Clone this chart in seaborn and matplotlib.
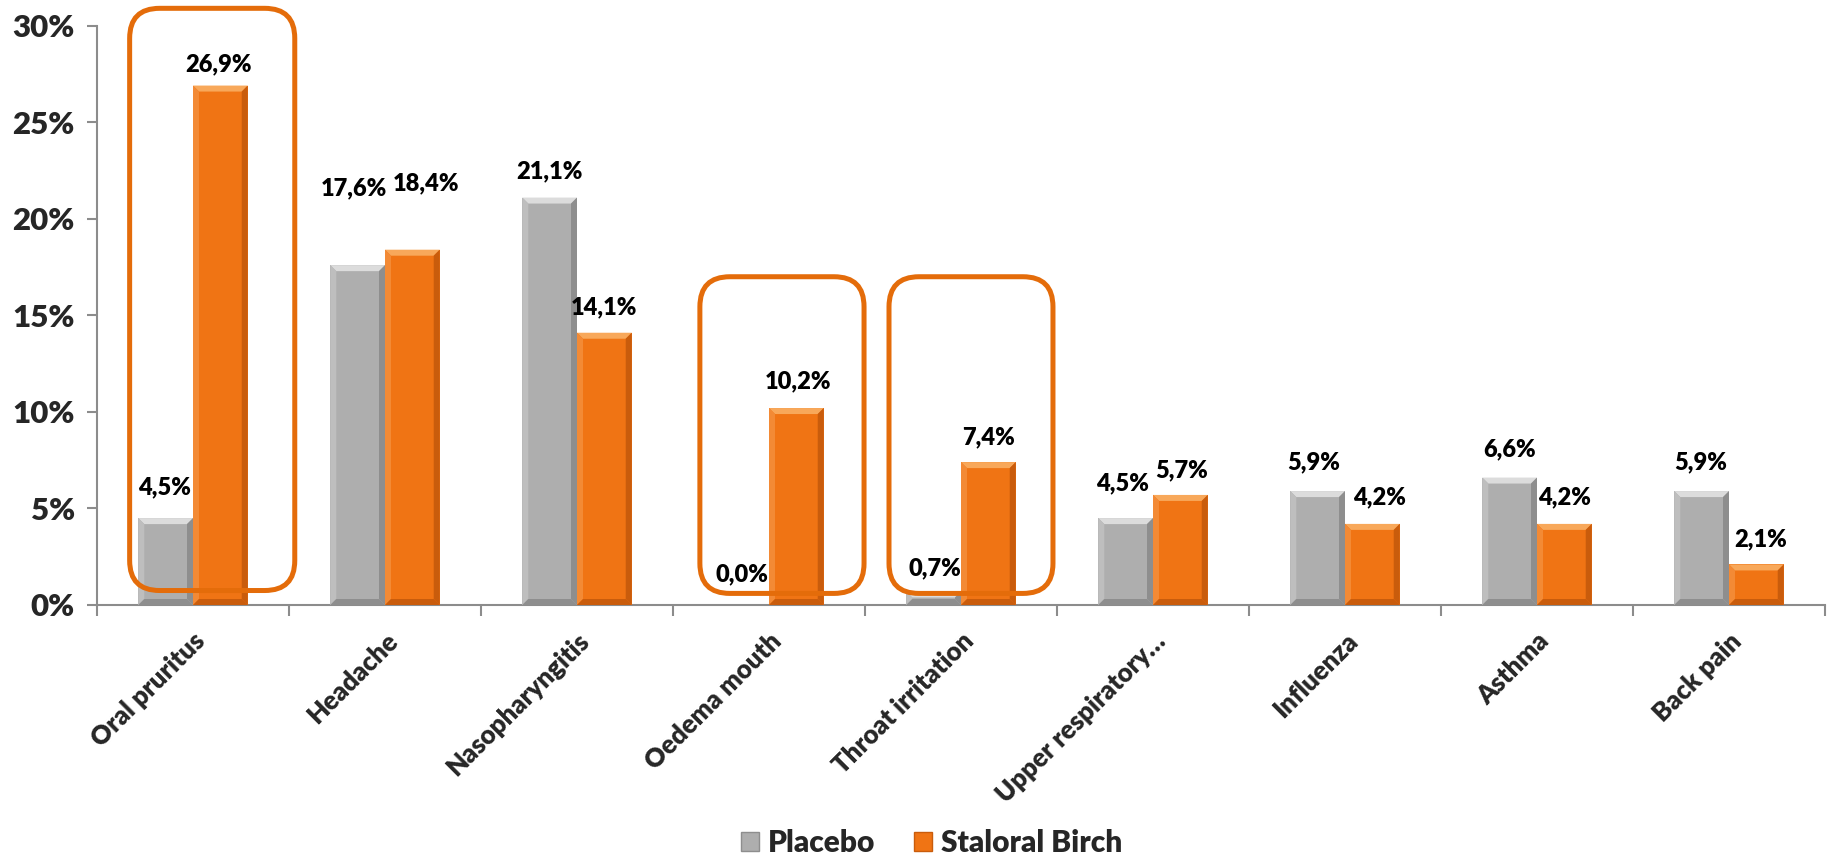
import numpy as np
import pandas as pd
import matplotlib
matplotlib.use("Agg")
import matplotlib.pyplot as plt
from matplotlib.patches import Polygon, FancyBboxPatch, Patch
from matplotlib.ticker import FuncFormatter, FixedLocator
import seaborn as sns

# ---- data -----------------------------------------------------------------
categories = ["Oral pruritus", "Headache", "Nasopharyngitis", "Oedema mouth",
              "Throat irritation", "Upper respiratory…", "Influenza", "Asthma",
              "Back pain"]
placebo = [4.5, 17.6, 21.1, 0.0, 0.7, 4.5, 5.9, 6.6, 5.9]
staloral = [26.9, 18.4, 14.1, 10.2, 7.4, 5.7, 4.2, 4.2, 2.1]
series_names = ["Placebo", "Staloral Birch"]
y_ticks = [0, 5, 10, 15, 20, 25, 30]

# ---- styling / layout -------------------------------------------------------
colors = {"Placebo": "#AEAEAE", "Staloral Birch": "#F07414"}
bevel_light = {"Placebo": "#DCDCDC", "Staloral Birch": "#F8A85A"}
bevel_side_light = {"Placebo": "#BEBEBE", "Staloral Birch": "#F38A35"}
bevel_dark = {"Placebo": "#8E8E8E", "Staloral Birch": "#C95C0C"}
frame_color = "#E46C0A"
WEIGHT = "heavy"

# label offsets (points) per bar: (dx, dy) above the bar top
label_offsets = {
    "Placebo": [(-1, 22), (-3, 55), (0, 19), (0, 22), (1, 17),
                (-2, 25), (-3, 21), (0, 20), (-1, 21)],
    "Staloral Birch": [(-1, 15), (10, 48), (0, 18), (1, 19), (0, 18),
                       (1, 18), (5, 19), (0, 19), (3, 18)],
}
# highlight frames: category, left/right offset from category centre, bottom, top
highlight_frames = [
    ("Oral pruritus", -0.33, 0.53, 0.75, 30.9),
    ("Oedema mouth", -0.36, 0.495, 0.6, 17.0),
    ("Throat irritation", -0.375, 0.479, 0.6, 17.0),
]

sns.set_theme(style="white")
plt.rcParams["font.family"] = ["Lato", "DejaVu Sans"]
plt.rcParams["font.weight"] = WEIGHT

df = pd.DataFrame({
    "category": categories * 2,
    "series": [series_names[0]] * len(categories) + [series_names[1]] * len(categories),
    "value": placebo + staloral,
})

fig = plt.figure(figsize=(18.31, 8.60), dpi=100)
ax = fig.add_axes([97 / 1831, 1 - 605 / 860, (1825 - 97) / 1831, (605 - 25.7) / 860])

sns.barplot(data=df, x="category", y="value", hue="series", order=categories,
            hue_order=series_names, palette=colors, width=0.57, gap=0,
            saturation=1, errorbar=None, legend=False, ax=ax, linewidth=0,
            zorder=3)

ax.set_xlim(-0.5, len(categories) - 0.5)
ax.set_ylim(0, 30)

# pixel sizes in data units
p0 = ax.transData.transform((0, 0))
p1 = ax.transData.transform((1, 1))
px_x = 1.0 / (p1[0] - p0[0])
px_y = 1.0 / (p1[1] - p0[1])

# bevelled faces on each bar
bev = 6
for container, name in zip(ax.containers, series_names):
    for rect in container:
        x, w, h = rect.get_x(), rect.get_width(), rect.get_height()
        if h <= 0:
            continue
        bx = bev * px_x
        by = min(bev * px_y, h / 2)
        ax.add_patch(Polygon([(x, h), (x + w, h), (x + w - bx, h - by), (x + bx, h - by)],
                             closed=True, facecolor=bevel_light[name], lw=0, zorder=4))
        ax.add_patch(Polygon([(x, h), (x + bx, h - by), (x + bx, by), (x, 0)],
                             closed=True, facecolor=bevel_side_light[name], lw=0, zorder=4))
        ax.add_patch(Polygon([(x + w, h), (x + w - bx, h - by), (x + w - bx, by), (x + w, 0)],
                             closed=True, facecolor=bevel_dark[name], lw=0, zorder=4))
        ax.add_patch(Polygon([(x, 0), (x + bx, by), (x + w - bx, by), (x + w, 0)],
                             closed=True, facecolor=bevel_dark[name], lw=0, zorder=4))

# value labels
for container, name, vals in zip(ax.containers, series_names, [placebo, staloral]):
    for rect, v, (dx, dy) in zip(container, vals, label_offsets[name]):
        cx = rect.get_x() + rect.get_width() / 2
        ax.annotate(f"{v:.1f}".replace(".", ",") + "%", (cx, rect.get_height()),
                    xytext=(dx, dy), textcoords="offset points", ha="center",
                    va="center", fontsize=17, fontweight=WEIGHT, color="black",
                    zorder=6)

# rounded highlight frames
radius_px = 30
for cat, left, right, bottom, top in highlight_frames:
    i = categories.index(cat)
    box = FancyBboxPatch((i + left, bottom), right - left, top - bottom,
                         boxstyle=f"round,pad=0,rounding_size={radius_px * px_x}",
                         mutation_aspect=px_y / px_x, facecolor="none",
                         edgecolor=frame_color, linewidth=3.6, zorder=5,
                         clip_on=False)
    ax.add_patch(box)

# axes styling
for side in ["top", "right"]:
    ax.spines[side].set_visible(False)
for side in ["left", "bottom"]:
    ax.spines[side].set_color("#8C8C8C")
    ax.spines[side].set_linewidth(1.5)
    ax.spines[side].set_zorder(2)

ax.yaxis.set_major_locator(FixedLocator(y_ticks))
ax.yaxis.set_major_formatter(FuncFormatter(lambda v, _: f"{v:.0f}%"))
ax.tick_params(axis="y", which="major", direction="out", length=7, width=1.5,
               color="#8C8C8C", labelsize=22.5, pad=9, left=True)
for lbl in ax.get_yticklabels():
    lbl.set_fontweight(WEIGHT)

ax.set_xticks(range(len(categories)))
ax.set_xticklabels(categories, rotation=45, ha="right", rotation_mode="anchor",
                   fontsize=18.5, fontweight=WEIGHT)
ax.tick_params(axis="x", which="major", length=0, pad=17)
ax.set_xticks(np.arange(-0.5, len(categories) + 0.5, 1), minor=True)
ax.tick_params(axis="x", which="minor", direction="out", length=8, width=1.5,
               color="#8C8C8C", bottom=True)
ax.set_xlabel("")
ax.set_ylabel("")
ax.grid(False)

handles = [Patch(facecolor=colors[n], edgecolor=bevel_dark[n], linewidth=1, label=n)
           for n in series_names]
fig.legend(handles=handles, loc="center", bbox_to_anchor=(932 / 1831, 1 - 843 / 860),
           ncol=2, frameon=False, prop={"size": 21.5, "weight": WEIGHT},
           handlelength=0.6, handleheight=0.6, handletextpad=0.3,
           columnspacing=1.3)

fig.savefig("out.png", dpi=100, facecolor="white")
